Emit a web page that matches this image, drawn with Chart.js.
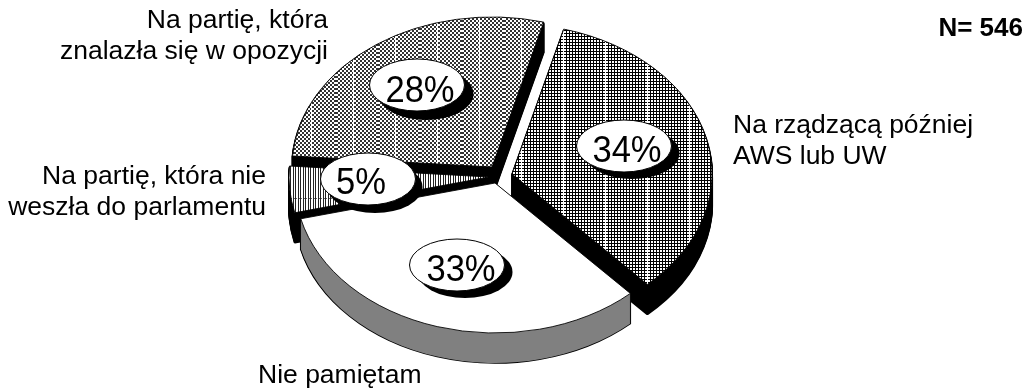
<!DOCTYPE html>
<html lang="pl">
<head>
<meta charset="utf-8">
<title>Na jaką partię głosowano</title>
<script src="https://cdn.jsdelivr.net/npm/chart.js@4/dist/chart.umd.js"></script>
<style>
    html, body { margin: 0; padding: 0; background: #fff; }
    canvas { display: block; }
</style>
</head>
<body>
<canvas id="pie" width="1026" height="388"></canvas>
<script>
const categories = ['Na rządzącą później AWS lub UW', 'Nie pamiętam', 'Na partię, która nie weszła do parlamentu', 'Na partię, która znalazła się w opozycji'];
const values = [34, 33, 5, 28];
const sampleNote = 'N= 546';

const tilt = 0.75;
const depth = 30;
const wallColors = ['#000', '#808080', '#000', '#000'];
// how far each slice is pulled out of the centre, in pixels
const sliceShift = [[18, -3], [1, 6], [-5, 0], [-2, -10]];
// back slices first so the front ones cover their walls
const drawOrder = [3, 2, 0, 1];

const labelStyle = [
    { lines: ['Na rządzącą później', 'AWS lub UW'], x: 733, y: 133, align: 'left' },
    { lines: ['Nie pamiętam'], x: 258, y: 383, align: 'left' },
    { lines: ['Na partię, która nie', 'weszła do parlamentu'], x: 266, y: 184, align: 'right' },
    { lines: ['Na partię, która', 'znalazła się w opozycji'], x: 328, y: 28, align: 'right' }
];
// dx/dy is the drop shadow, textX/textY the percent text
const bubbles = [
    { x: 624, y: 146, dx: 8, dy: 7, textX: 627, textY: 162 },
    { x: 457, y: 265, dx: 8, dy: 7, textX: 461, textY: 281 },
    { x: 368, y: 179, dx: 7, dy: 8, textX: 361, textY: 194 },
    { x: 417, y: 85, dx: 9, dy: 9, textX: 420, textY: 102 }
];

function makeTile(w, h, paint) {
    const c = document.createElement('canvas');
    c.width = w;
    c.height = h;
    const g = c.getContext('2d');
    g.fillStyle = '#fff';
    g.fillRect(0, 0, w, h);
    paint(g);
    return g.createPattern(c, 'repeat');
}

// fine grid, white seam every 42px
const gridFill = makeTile(42, 3, g => {
    g.fillStyle = '#000';
    g.fillRect(0, 0, 42, 1);
    for (let x = 2; x < 42; x += 3) g.fillRect(x, 0, 1, 3);
    g.fillStyle = '#fff';
    g.fillRect(17, 0, 1, 3);
});

// checker dither, same seams
const checkerFill = makeTile(42, 4, g => {
    g.fillStyle = '#333';
    for (let x = 0; x < 42; x += 4) {
        g.fillRect(x, 0, 2, 2);
        g.fillRect(x + 2, 2, 2, 2);
    }
    g.fillStyle = '#fff';
    g.fillRect(17, 0, 1, 4);
});

// vertical hatching with a dashed row across it
const stripeFill = makeTile(5, 42, g => {
    g.fillStyle = '#222';
    g.fillRect(0, 0, 1, 42);
    g.fillRect(3, 0, 1, 42);
    g.fillStyle = '#666';
    g.fillRect(1, 30, 1, 1);
    g.fillRect(4, 30, 1, 1);
});

const sliceFills = [gridFill, '#fff', stripeFill, checkerFill];

const tiltedPie = {
    id: 'tiltedPie',
    beforeDatasetsDraw(chart) {
        const ctx = chart.ctx;
        const arcs = chart.getDatasetMeta(0).data;
        drawOrder.forEach(i => {
            const arc = arcs[i];
            const base = arc.options;
            const place = down => {
                ctx.translate(sliceShift[i][0], sliceShift[i][1] + down);
                ctx.translate(arc.x, arc.y);
                ctx.scale(1, tilt);
                ctx.translate(-arc.x, -arc.y);
            };
            const layer = (down, overrides) => {
                ctx.save();
                place(down);
                arc.options = Object.assign(Object.create(base), overrides);
                arc.draw(ctx);
                arc.options = base;
                ctx.restore();
            };
            // side wall: outlined stack first, plain fill over it
            for (let d = depth; d > 0; d--) layer(d, { backgroundColor: '#000', borderColor: '#000', borderWidth: 2 });
            for (let d = depth; d > 0; d--) layer(d, { backgroundColor: wallColors[i], borderWidth: 0 });
            // top face, hatch kept in screen pixels
            ctx.save();
            place(0);
            const fill = base.backgroundColor;
            if (fill instanceof CanvasPattern) fill.setTransform(ctx.getTransform().inverse());
            arc.draw(ctx);
            ctx.restore();
        });
        return false;
    },
    afterDraw(chart) {
        const ctx = chart.ctx;
        ctx.save();
        ctx.textBaseline = 'alphabetic';

        bubbles.forEach((b, i) => {
            ctx.fillStyle = '#000';
            ctx.beginPath();
            ctx.ellipse(b.x + b.dx, b.y + b.dy, 47.5, 26, 0, 0, Math.PI * 2);
            ctx.fill();
            ctx.fillStyle = '#fff';
            ctx.strokeStyle = '#000';
            ctx.lineWidth = 1;
            ctx.beginPath();
            ctx.ellipse(b.x, b.y, 47.5, 26, 0, 0, Math.PI * 2);
            ctx.fill();
            ctx.stroke();
            // percent text is set a little condensed
            ctx.save();
            ctx.translate(b.textX, b.textY);
            ctx.scale(0.96, 1);
            ctx.fillStyle = '#000';
            ctx.font = '36px "Liberation Sans"';
            ctx.textAlign = 'center';
            ctx.fillText(values[i] + '%', 0, 0);
            ctx.restore();
        });

        ctx.fillStyle = '#000';
        ctx.font = '26.5px "Liberation Sans"';
        labelStyle.forEach(l => {
            ctx.textAlign = l.align;
            l.lines.forEach((line, n) => ctx.fillText(line, l.x, l.y + n * 30.5));
        });

        ctx.font = 'bold 26px "Liberation Sans"';
        ctx.textAlign = 'right';
        ctx.fillText(sampleNote, 1023, 36);
        ctx.restore();
    }
};

new Chart(document.getElementById('pie'), {
    type: 'pie',
    data: {
        labels: categories,
        datasets: [{
            data: values,
            backgroundColor: sliceFills,
            borderColor: '#000',
            borderWidth: 1
        }]
    },
    options: {
        responsive: false,
        animation: false,
        events: [],
        rotation: 15,
        radius: 200,
        layout: { padding: { right: 38, bottom: 34 } },
        plugins: { legend: { display: false }, tooltip: { enabled: false } }
    },
    plugins: [tiltedPie]
});
</script>
</body>
</html>
